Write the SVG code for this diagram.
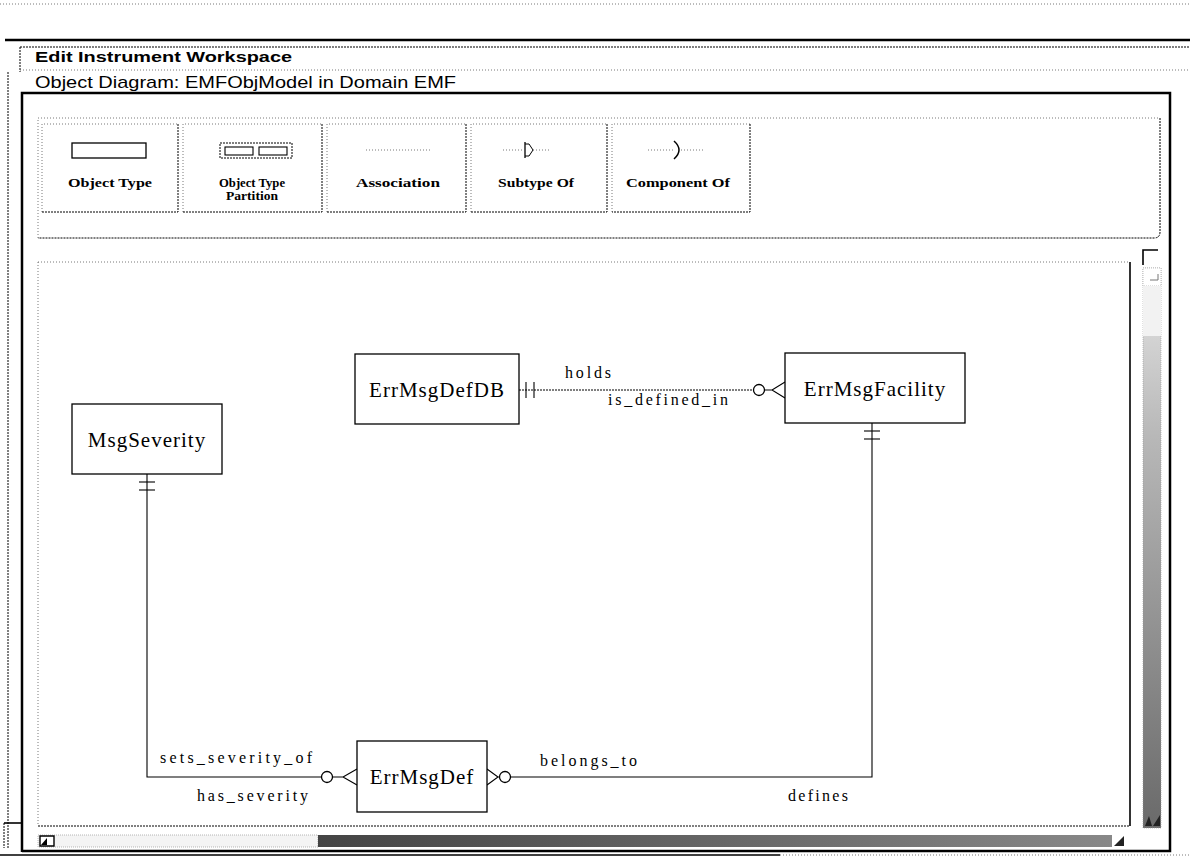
<svg xmlns="http://www.w3.org/2000/svg" width="1190" height="856" viewBox="0 0 1190 856">
<defs>
<style>
.dot{stroke:#000;stroke-width:1;stroke-dasharray:2 1;fill:none}
.faint{stroke:#555;stroke-width:0.8;stroke-dasharray:1 2;fill:none}
.thick{stroke:#000;stroke-width:2.5;fill:none}
.med{stroke:#000;stroke-width:1.6;fill:none}
.box{fill:#fff;stroke:#000;stroke-width:1.3}
.nlabel{font-family:"Liberation Serif",serif;font-size:21px;fill:#000;text-anchor:middle}
.clabel{font-family:"Liberation Serif",serif;font-size:16px;fill:#000}
.plabel{font-family:"Liberation Serif",serif;font-size:13px;font-weight:bold;fill:#000}
.conn{stroke:#000;stroke-width:1.1;fill:none}
.ui{font-family:"Liberation Sans",sans-serif;fill:#000}
</style>
<linearGradient id="vgrad" x1="0" y1="0" x2="0" y2="1">
<stop offset="0" stop-color="#e6e6e6"/>
<stop offset="0.3" stop-color="#b8b8b8"/>
<stop offset="1" stop-color="#6a6a6a"/>
</linearGradient>
<linearGradient id="hgrad" x1="0" y1="0" x2="1" y2="0">
<stop offset="0" stop-color="#444"/>
<stop offset="1" stop-color="#888"/>
</linearGradient>
</defs>
<rect width="1190" height="856" fill="#fff"/>

<g id="window-chrome">
<line x1="0" y1="4" x2="1190" y2="4" class="faint"/>
<line x1="5" y1="40" x2="1190" y2="40" class="thick"/>
<line x1="20" y1="47" x2="1190" y2="47" class="dot"/>
<line x1="20" y1="47" x2="20" y2="72" class="dot"/>
<line x1="20" y1="70" x2="1190" y2="70" class="faint"/>
<line x1="8" y1="72" x2="8" y2="848" class="dot"/>
<text x="35" y="62" class="ui" font-size="15" font-weight="bold" textLength="257" lengthAdjust="spacingAndGlyphs">Edit Instrument Workspace</text>
<text x="35" y="88" class="ui" font-size="17" textLength="421" lengthAdjust="spacingAndGlyphs">Object Diagram: EMFObjModel in Domain EMF</text>
<path d="M22,852 L22,93 L1170,93 L1170,851 L22,851" class="thick"/>
<path d="M4,823 L22,823" class="med"/>
<line x1="4" y1="823" x2="4" y2="848" class="dot"/>
<line x1="0" y1="855" x2="780" y2="855" stroke="#000" stroke-width="1.5"/>
<line x1="780" y1="855" x2="1190" y2="855" class="faint"/>
</g>

<g id="palette">
<path d="M38,238 L38,118 L1160,118" class="faint"/>
<path d="M1160,118 L1160,232 Q1160,238 1154,238 L38,238" class="dot" stroke-width="1.4"/>
<g id="btn-object-type">
<path d="M42,212 L42,124 L178,124" class="faint"/>
<path d="M178,124 L178,212 L42,212" class="dot" stroke-width="1.4"/>
<rect x="72" y="143" width="74" height="15" fill="none" stroke="#000" stroke-width="1.3"/>
<text x="68" y="187" class="plabel" textLength="84" lengthAdjust="spacingAndGlyphs">Object Type</text>
</g>
<g id="btn-partition">
<path d="M183,212 L183,124 L322,124" class="faint"/>
<path d="M322,124 L322,212 L183,212" class="dot" stroke-width="1.4"/>
<rect x="220" y="143" width="72" height="15" class="dot"/>
<rect x="225" y="147" width="28" height="8" fill="none" stroke="#000" stroke-width="1.1"/>
<rect x="259" y="147" width="28" height="8" fill="none" stroke="#000" stroke-width="1.1"/>
<text x="219" y="187" class="plabel" textLength="66" lengthAdjust="spacingAndGlyphs">Object Type</text>
<text x="226" y="200" class="plabel" textLength="52" lengthAdjust="spacingAndGlyphs">Partition</text>
</g>
<g id="btn-association">
<path d="M327,212 L327,124 L466,124" class="faint"/>
<path d="M466,124 L466,212 L327,212" class="dot" stroke-width="1.4"/>
<line x1="366" y1="150" x2="432" y2="150" class="faint" stroke-width="1.2"/>
<text x="356" y="187" class="plabel" textLength="84" lengthAdjust="spacingAndGlyphs">Association</text>
</g>
<g id="btn-subtype">
<path d="M471,212 L471,124 L607,124" class="faint"/>
<path d="M607,124 L607,212 L471,212" class="dot" stroke-width="1.4"/>
<line x1="503" y1="150" x2="524" y2="150" class="faint" stroke-width="1.2"/>
<line x1="525" y1="142" x2="525" y2="158" stroke="#000" stroke-width="1.3"/>
<path d="M525,144 L529,144 L533,150 L529,156 L525,156" fill="none" stroke="#000" stroke-width="1"/>
<line x1="533" y1="150" x2="550" y2="150" class="faint" stroke-width="1.2"/>
<text x="498" y="187" class="plabel" textLength="76" lengthAdjust="spacingAndGlyphs">Subtype Of</text>
</g>
<g id="btn-component">
<path d="M612,212 L612,124 L750,124" class="faint"/>
<path d="M750,124 L750,212 L612,212" class="dot" stroke-width="1.4"/>
<line x1="648" y1="150" x2="674" y2="150" class="faint" stroke-width="1.2"/>
<path d="M674,141 Q684,150 674,159" fill="none" stroke="#000" stroke-width="1.5"/>
<line x1="681" y1="150" x2="705" y2="150" class="faint" stroke-width="1.2"/>
<text x="626" y="187" class="plabel" textLength="104" lengthAdjust="spacingAndGlyphs">Component Of</text>
</g>
</g>

<g id="canvas-frame">
<line x1="38" y1="262" x2="1128" y2="262" class="faint"/>
<line x1="38" y1="262" x2="38" y2="826" class="faint"/>
<line x1="1130" y1="262" x2="1130" y2="826" stroke="#000" stroke-width="1.6"/>
<line x1="38" y1="826" x2="1130" y2="826" class="dot" stroke-width="1.4"/>
<path d="M1143,265 L1143,250 L1158,250" class="med"/>
<rect x="1143" y="268" width="18" height="560" fill="url(#vgrad)" stroke="#999" stroke-width="0.6" stroke-dasharray="1 1"/>
<rect x="1143" y="268" width="18" height="18" fill="#fff" stroke="#999" stroke-width="0.6" stroke-dasharray="1 1"/>
<path d="M1150,280 L1158,280 L1158,274" fill="none" stroke="#777" stroke-width="1"/>
<rect x="1143" y="286" width="18" height="50" fill="#f2f2f2"/>
<path d="M1145,826 L1149,816 L1152,826 Z M1153,826 L1160,815 L1160,826 Z" fill="#222"/>
<rect x="38" y="835" width="280" height="12" fill="#f4f4f4" stroke="#888" stroke-width="0.6" stroke-dasharray="1 1"/>
<rect x="318" y="835" width="794" height="12" fill="url(#hgrad)"/>
<path d="M40,836 L54,836 L54,846 L40,846 Z" fill="#fff" stroke="#000" stroke-width="1.4"/>
<path d="M41,845 L47,838 L47,845 Z" fill="#000"/>
<path d="M1114,846 L1124,836 L1124,846 Z" fill="#222"/>
</g>

<g id="connectors">
<g id="conn-holds">
<line x1="519" y1="390" x2="753" y2="390" class="conn" stroke-dasharray="2 1"/>
<line x1="526" y1="382" x2="526" y2="398" class="conn"/>
<line x1="534" y1="382" x2="534" y2="398" class="conn"/>
<circle cx="759" cy="390" r="5.5" fill="#fff" stroke="#000" stroke-width="1.3"/>
<path d="M765,390 L772,390 M785,382 L772,390 L785,398" class="conn"/>
<text x="565" y="378" class="clabel" textLength="46" lengthAdjust="spacing">holds</text>
<text x="608" y="405" class="clabel" textLength="120" lengthAdjust="spacing">is_defined_in</text>
</g>
<g id="conn-severity">
<path d="M147,474 L147,777 L321,777" class="conn"/>
<line x1="139" y1="482" x2="155" y2="482" class="conn"/>
<line x1="139" y1="490" x2="155" y2="490" class="conn"/>
<circle cx="327" cy="777" r="5.5" fill="#fff" stroke="#000" stroke-width="1.3"/>
<path d="M333,777 L343,777 M357,769 L343,777 L357,785" class="conn"/>
<text x="160" y="763" class="clabel" textLength="152" lengthAdjust="spacing">sets_severity_of</text>
<text x="197" y="801" class="clabel" textLength="111" lengthAdjust="spacing">has_severity</text>
</g>
<g id="conn-belongs">
<path d="M510,777 L872,777 L872,423" class="conn"/>
<path d="M487,769 L498,777 L487,785 M498,777 L499,777" class="conn"/>
<circle cx="505" cy="777" r="5.5" fill="#fff" stroke="#000" stroke-width="1.3"/>
<line x1="864" y1="431" x2="880" y2="431" class="conn"/>
<line x1="864" y1="439" x2="880" y2="439" class="conn"/>
<text x="540" y="766" class="clabel" textLength="97" lengthAdjust="spacing">belongs_to</text>
<text x="788" y="801" class="clabel" textLength="60" lengthAdjust="spacing">defines</text>
</g>
</g>

<g id="node-ErrMsgDefDB">
<rect x="355" y="354" width="164" height="70" class="box"/>
<text x="437" y="397" class="nlabel" letter-spacing="1">ErrMsgDefDB</text>
</g>
<g id="node-ErrMsgFacility">
<rect x="785" y="353" width="180" height="70" class="box"/>
<text x="875" y="396" class="nlabel" letter-spacing="1">ErrMsgFacility</text>
</g>
<g id="node-MsgSeverity">
<rect x="72" y="404" width="150" height="70" class="box"/>
<text x="147" y="447" class="nlabel" letter-spacing="1">MsgSeverity</text>
</g>
<g id="node-ErrMsgDef">
<rect x="357" y="741" width="130" height="71" class="box"/>
<text x="422" y="784" class="nlabel" letter-spacing="1">ErrMsgDef</text>
</g>
</svg>
